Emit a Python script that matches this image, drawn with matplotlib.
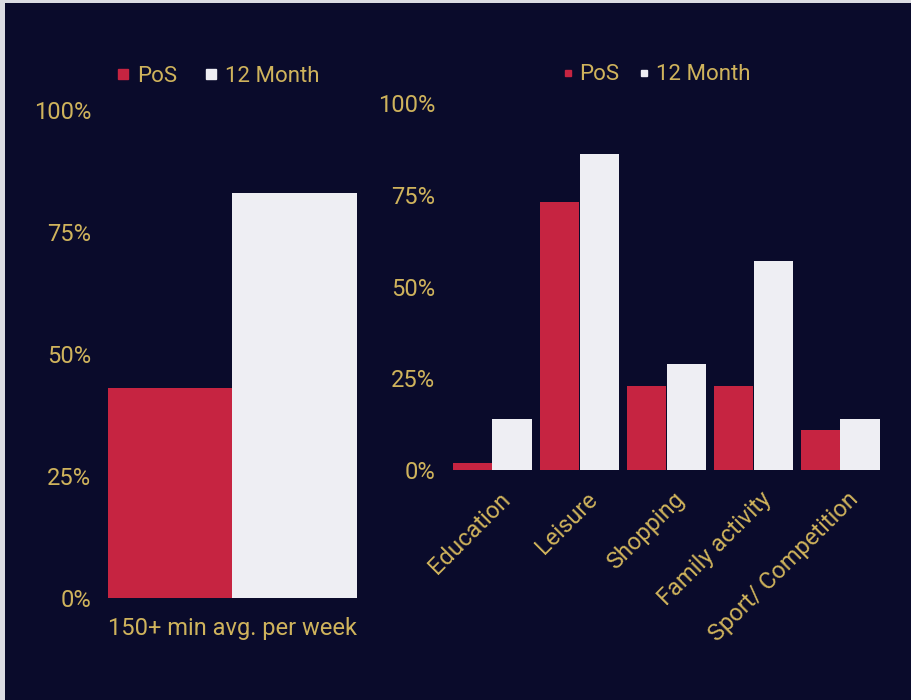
import numpy as np
import matplotlib.pyplot as plt
import matplotlib.transforms as mtransforms
from matplotlib.lines import Line2D
from matplotlib.patches import Rectangle

plt.rcParams["font.family"] = ["Roboto", "DejaVu Sans"]

# overall share meeting the weekly activity guideline
overall_label = ["150+ min avg. per week"]
overall_pos = [43]
overall_12m = [83]

# share by purpose of activity
purposes = ["Education", "Leisure", "Shopping", "Family activity", "Sport/ Competition"]
purpose_pos = [2, 73, 23, 23, 11]
purpose_12m = [14, 86, 29, 57, 14]

series_names = ["PoS", "12 Month"]

BG = "#0a0b2b"
RED = "#c62441"
WHITE = "#eeeef3"
GOLD = "#cfb35c"
percent_ticks = [0, 25, 50, 75, 100]

fig = plt.figure(figsize=(9.12, 7), dpi=100, facecolor="#dcdde3")
fig.patches.append(Rectangle((5 / 912, 0), 1, 1 - 3 / 700, transform=fig.transFigure,
                             facecolor=BG, edgecolor="none", zorder=-1))


def style_axis(ax, ypad):
    ax.set_facecolor("none")
    for s in ax.spines.values():
        s.set_visible(False)
    ax.set_ylim(0, 100)
    ax.set_yticks(percent_ticks)
    ax.set_yticklabels([f"{t}%" for t in percent_ticks])
    ax.tick_params(length=0, colors=GOLD, labelsize=17)
    ax.tick_params(axis="y", pad=ypad)


def add_legend(ax, msize, anchor, textpad, colspace):
    handles = [Line2D([], [], ls="none", marker="s", ms=msize, mfc=c, mec=c)
               for c in (RED, WHITE)]
    leg = ax.legend(handles, series_names, ncol=2, frameon=False, loc="center left",
                    bbox_to_anchor=anchor, bbox_transform=fig.transFigure,
                    borderpad=0, handletextpad=textpad, columnspacing=colspace,
                    handlelength=0.8, fontsize=16)
    for t in leg.get_texts():
        t.set_color(GOLD)


# left panel: single group, bars touching
ax1 = fig.add_axes([108 / 912, 102 / 700, 249 / 912, 488 / 700])
x1 = np.arange(len(overall_label))
ax1.bar(x1 - 0.5, overall_pos, width=1.0, color=RED)
ax1.bar(x1 + 0.5, overall_12m, width=1.0, color=WHITE)
ax1.set_xlim(-1, 1)
ax1.set_xticks(x1)
ax1.set_xticklabels(overall_label, fontsize=15.5)
style_axis(ax1, 12)
ax1.tick_params(axis="x", pad=14)
add_legend(ax1, 7, (103 / 912, 1 - 76 / 700), 0.25, 1.1)

# right panel: grouped bars by purpose
ax2 = fig.add_axes([449 / 912, 230 / 700, 435 / 912, 367 / 700])
x2 = np.arange(len(purposes))
w = 0.45
ax2.bar(x2 - w / 2, purpose_pos, width=w, color=RED)
ax2.bar(x2 + w / 2, purpose_12m, width=w, color=WHITE)
ax2.set_xlim(-0.5, len(purposes) - 0.5)
ax2.set_xticks(x2)
ax2.set_xticklabels(purposes, rotation=45, ha="right", rotation_mode="anchor")
style_axis(ax2, 10)
ax2.tick_params(axis="x", pad=13)
shift = mtransforms.ScaledTranslation(0.06, 0, fig.dpi_scale_trans)
for lbl in ax2.get_xticklabels():
    lbl.set_transform(lbl.get_transform() + shift)
add_legend(ax2, 4.5, (548 / 912, 1 - 75 / 700), 0.12, 0.7)

fig.savefig("out.png", dpi=100, facecolor=fig.get_facecolor())
